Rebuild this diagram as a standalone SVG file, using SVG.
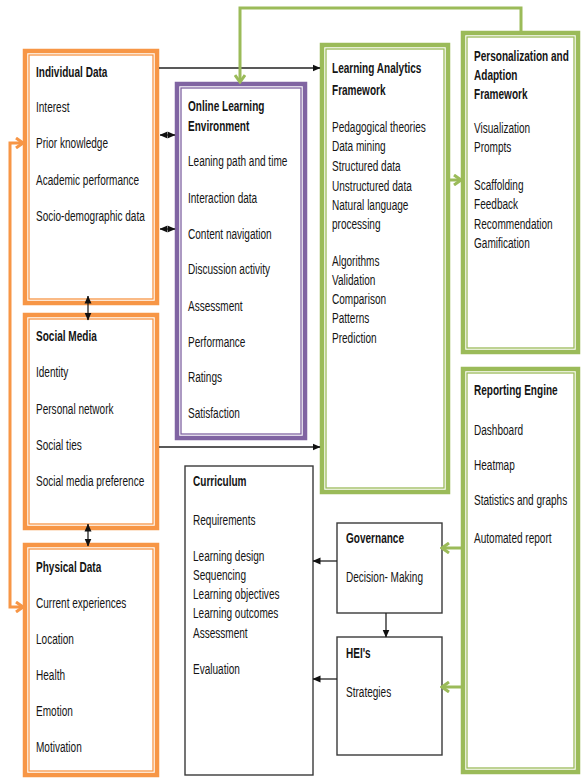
<svg xmlns="http://www.w3.org/2000/svg" width="581" height="782" viewBox="0 0 581 782">
<defs>
<style>
text{font-family:"Liberation Sans",Arial,sans-serif;font-size:15px;fill:#141414}
.b{font-weight:bold}
.o{fill:none;stroke:#F79646;stroke-width:4.5}
.oi{fill:none;stroke:#F79646;stroke-width:1.3}
.p{fill:none;stroke:#8064A2;stroke-width:4.5}
.pi{fill:none;stroke:#8064A2;stroke-width:1.3}
.g{fill:none;stroke:#9BBB59;stroke-width:4.5}
.gi{fill:none;stroke:#9BBB59;stroke-width:1.3}
.k{fill:#fff;stroke:#3a3a3a;stroke-width:1.4}
.ck{fill:none;stroke:#222;stroke-width:1.3}
.cg{fill:none;stroke:#9BBB59;stroke-width:3}
.co{fill:none;stroke:#F79646;stroke-width:3}
</style>
<marker id="ak" viewBox="0 0 8 8" refX="7.5" refY="4" markerWidth="8" markerHeight="8" markerUnits="userSpaceOnUse" orient="auto-start-reverse">
<path d="M0,0.5 L8,4 L0,7.5 Z" fill="#111"/>
</marker>
<marker id="ag" viewBox="0 0 10 12" refX="8" refY="6" markerWidth="10" markerHeight="12" markerUnits="userSpaceOnUse" orient="auto-start-reverse">
<path d="M1,1 L8,6 L1,11" fill="none" stroke="#9BBB59" stroke-width="3"/>
</marker>
<marker id="ao" viewBox="0 0 10 12" refX="8" refY="6" markerWidth="10" markerHeight="12" markerUnits="userSpaceOnUse" orient="auto-start-reverse">
<path d="M1,1 L8,6 L1,11" fill="none" stroke="#F79646" stroke-width="3"/>
</marker>
</defs>
<rect width="581" height="782" fill="#fff"/>

<g id="individual-data">
<rect class="o" x="25" y="51" width="132" height="252"/>
<rect class="oi" x="29" y="55" width="124" height="244"/>
<g transform="translate(36 0) scale(0.67 1)">
<text class="b" x="0" y="77">Individual Data</text>
<text x="0" y="112">Interest</text>
<text x="0" y="148">Prior knowledge</text>
<text x="0" y="185">Academic performance</text>
<text x="0" y="221">Socio-demographic data</text>
</g>
</g>

<g id="social-media">
<rect class="o" x="25" y="315" width="132" height="213"/>
<rect class="oi" x="29" y="319" width="124" height="205"/>
<g transform="translate(36 0) scale(0.67 1)">
<text class="b" x="0" y="341">Social Media</text>
<text x="0" y="377">Identity</text>
<text x="0" y="414">Personal network</text>
<text x="0" y="450">Social ties</text>
<text x="0" y="486">Social media preference</text>
</g>
</g>

<g id="physical-data">
<rect class="o" x="25" y="545" width="132" height="230"/>
<rect class="oi" x="29" y="549" width="124" height="222"/>
<g transform="translate(36 0) scale(0.67 1)">
<text class="b" x="0" y="572">Physical Data</text>
<text x="0" y="608">Current experiences</text>
<text x="0" y="644">Location</text>
<text x="0" y="680">Health</text>
<text x="0" y="716">Emotion</text>
<text x="0" y="752">Motivation</text>
</g>
</g>

<g id="online-learning-environment">
<rect class="p" x="177" y="84" width="128" height="354"/>
<rect class="pi" x="181" y="88" width="120" height="346"/>
<g transform="translate(188 0) scale(0.67 1)">
<text class="b" x="0" y="111">Online Learning</text>
<text class="b" x="0" y="131">Environment</text>
<text x="0" y="166">Leaning path and time</text>
<text x="0" y="203">Interaction data</text>
<text x="0" y="239">Content navigation</text>
<text x="0" y="274">Discussion activity</text>
<text x="0" y="311">Assessment</text>
<text x="0" y="347">Performance</text>
<text x="0" y="382">Ratings</text>
<text x="0" y="418">Satisfaction</text>
</g>
</g>

<g id="learning-analytics-framework">
<rect class="g" x="322" y="45" width="126" height="447"/>
<rect class="gi" x="326" y="49" width="118" height="439"/>
<g transform="translate(332 0) scale(0.67 1)">
<text class="b" x="0" y="73">Learning Analytics</text>
<text class="b" x="0" y="95">Framework</text>
<text x="0" y="132">Pedagogical theories</text>
<text x="0" y="151">Data mining</text>
<text x="0" y="171">Structured data</text>
<text x="0" y="191">Unstructured data</text>
<text x="0" y="210">Natural language</text>
<text x="0" y="229">processing</text>
<text x="0" y="266">Algorithms</text>
<text x="0" y="285">Validation</text>
<text x="0" y="304">Comparison</text>
<text x="0" y="323">Patterns</text>
<text x="0" y="343">Prediction</text>
</g>
</g>

<g id="personalization-adaption-framework">
<rect class="g" x="463" y="33" width="115" height="319"/>
<rect class="gi" x="467" y="37" width="107" height="311"/>
<g transform="translate(474 0) scale(0.67 1)">
<text class="b" x="0" y="61">Personalization and</text>
<text class="b" x="0" y="80">Adaption</text>
<text class="b" x="0" y="99">Framework</text>
<text x="0" y="133">Visualization</text>
<text x="0" y="152">Prompts</text>
<text x="0" y="190">Scaffolding</text>
<text x="0" y="209">Feedback</text>
<text x="0" y="229">Recommendation</text>
<text x="0" y="248">Gamification</text>
</g>
</g>

<g id="reporting-engine">
<rect class="g" x="463" y="369" width="115" height="403"/>
<rect class="gi" x="467" y="373" width="107" height="395"/>
<g transform="translate(474 0) scale(0.67 1)">
<text class="b" x="0" y="395">Reporting Engine</text>
<text x="0" y="435">Dashboard</text>
<text x="0" y="470">Heatmap</text>
<text x="0" y="505">Statistics and graphs</text>
<text x="0" y="543">Automated report</text>
</g>
</g>

<g id="curriculum">
<rect class="k" x="185" y="466" width="128" height="309"/>
<g transform="translate(193 0) scale(0.67 1)">
<text class="b" x="0" y="486">Curriculum</text>
<text x="0" y="525">Requirements</text>
<text x="0" y="561">Learning design</text>
<text x="0" y="580">Sequencing</text>
<text x="0" y="599">Learning objectives</text>
<text x="0" y="618">Learning outcomes</text>
<text x="0" y="638">Assessment</text>
<text x="0" y="674">Evaluation</text>
</g>
</g>

<g id="governance">
<rect class="k" x="337" y="523" width="105" height="90"/>
<g transform="translate(346 0) scale(0.67 1)">
<text class="b" x="0" y="543">Governance</text>
<text x="0" y="582">Decision- Making</text>
</g>
</g>

<g id="heis">
<rect class="k" x="337" y="637" width="105" height="118"/>
<g transform="translate(346 0) scale(0.67 1)">
<text class="b" x="0" y="658">HEI's</text>
<text x="0" y="697">Strategies</text>
</g>
</g>

<g id="connectors">
<path class="ck" d="M159,68 H320" marker-end="url(#ak)"/>
<path class="ck" d="M159,447 H320" marker-end="url(#ak)"/>
<path class="ck" d="M160,135 H175" marker-start="url(#ak)" marker-end="url(#ak)"/>
<path class="ck" d="M160,229 H175" marker-start="url(#ak)" marker-end="url(#ak)"/>
<path class="ck" d="M88,296 V320" marker-start="url(#ak)" marker-end="url(#ak)"/>
<path class="ck" d="M88,524 V546" marker-start="url(#ak)" marker-end="url(#ak)"/>
<path class="ck" d="M337,561 H313" marker-end="url(#ak)"/>
<path class="ck" d="M337,679 H313" marker-end="url(#ak)"/>
<path class="ck" d="M386,613 V637" marker-end="url(#ak)"/>
<path class="cg" d="M521,31 V8 H240 V82" marker-end="url(#ag)"/>
<path class="cg" d="M449,180 H461" marker-end="url(#ag)"/>
<path class="cg" d="M461,548 H442" marker-end="url(#ag)"/>
<path class="cg" d="M461,687 H442" marker-end="url(#ag)"/>
<path class="co" d="M23,143 H10 V607 H23" marker-start="url(#ao)" marker-end="url(#ao)"/>
</g>
</svg>
